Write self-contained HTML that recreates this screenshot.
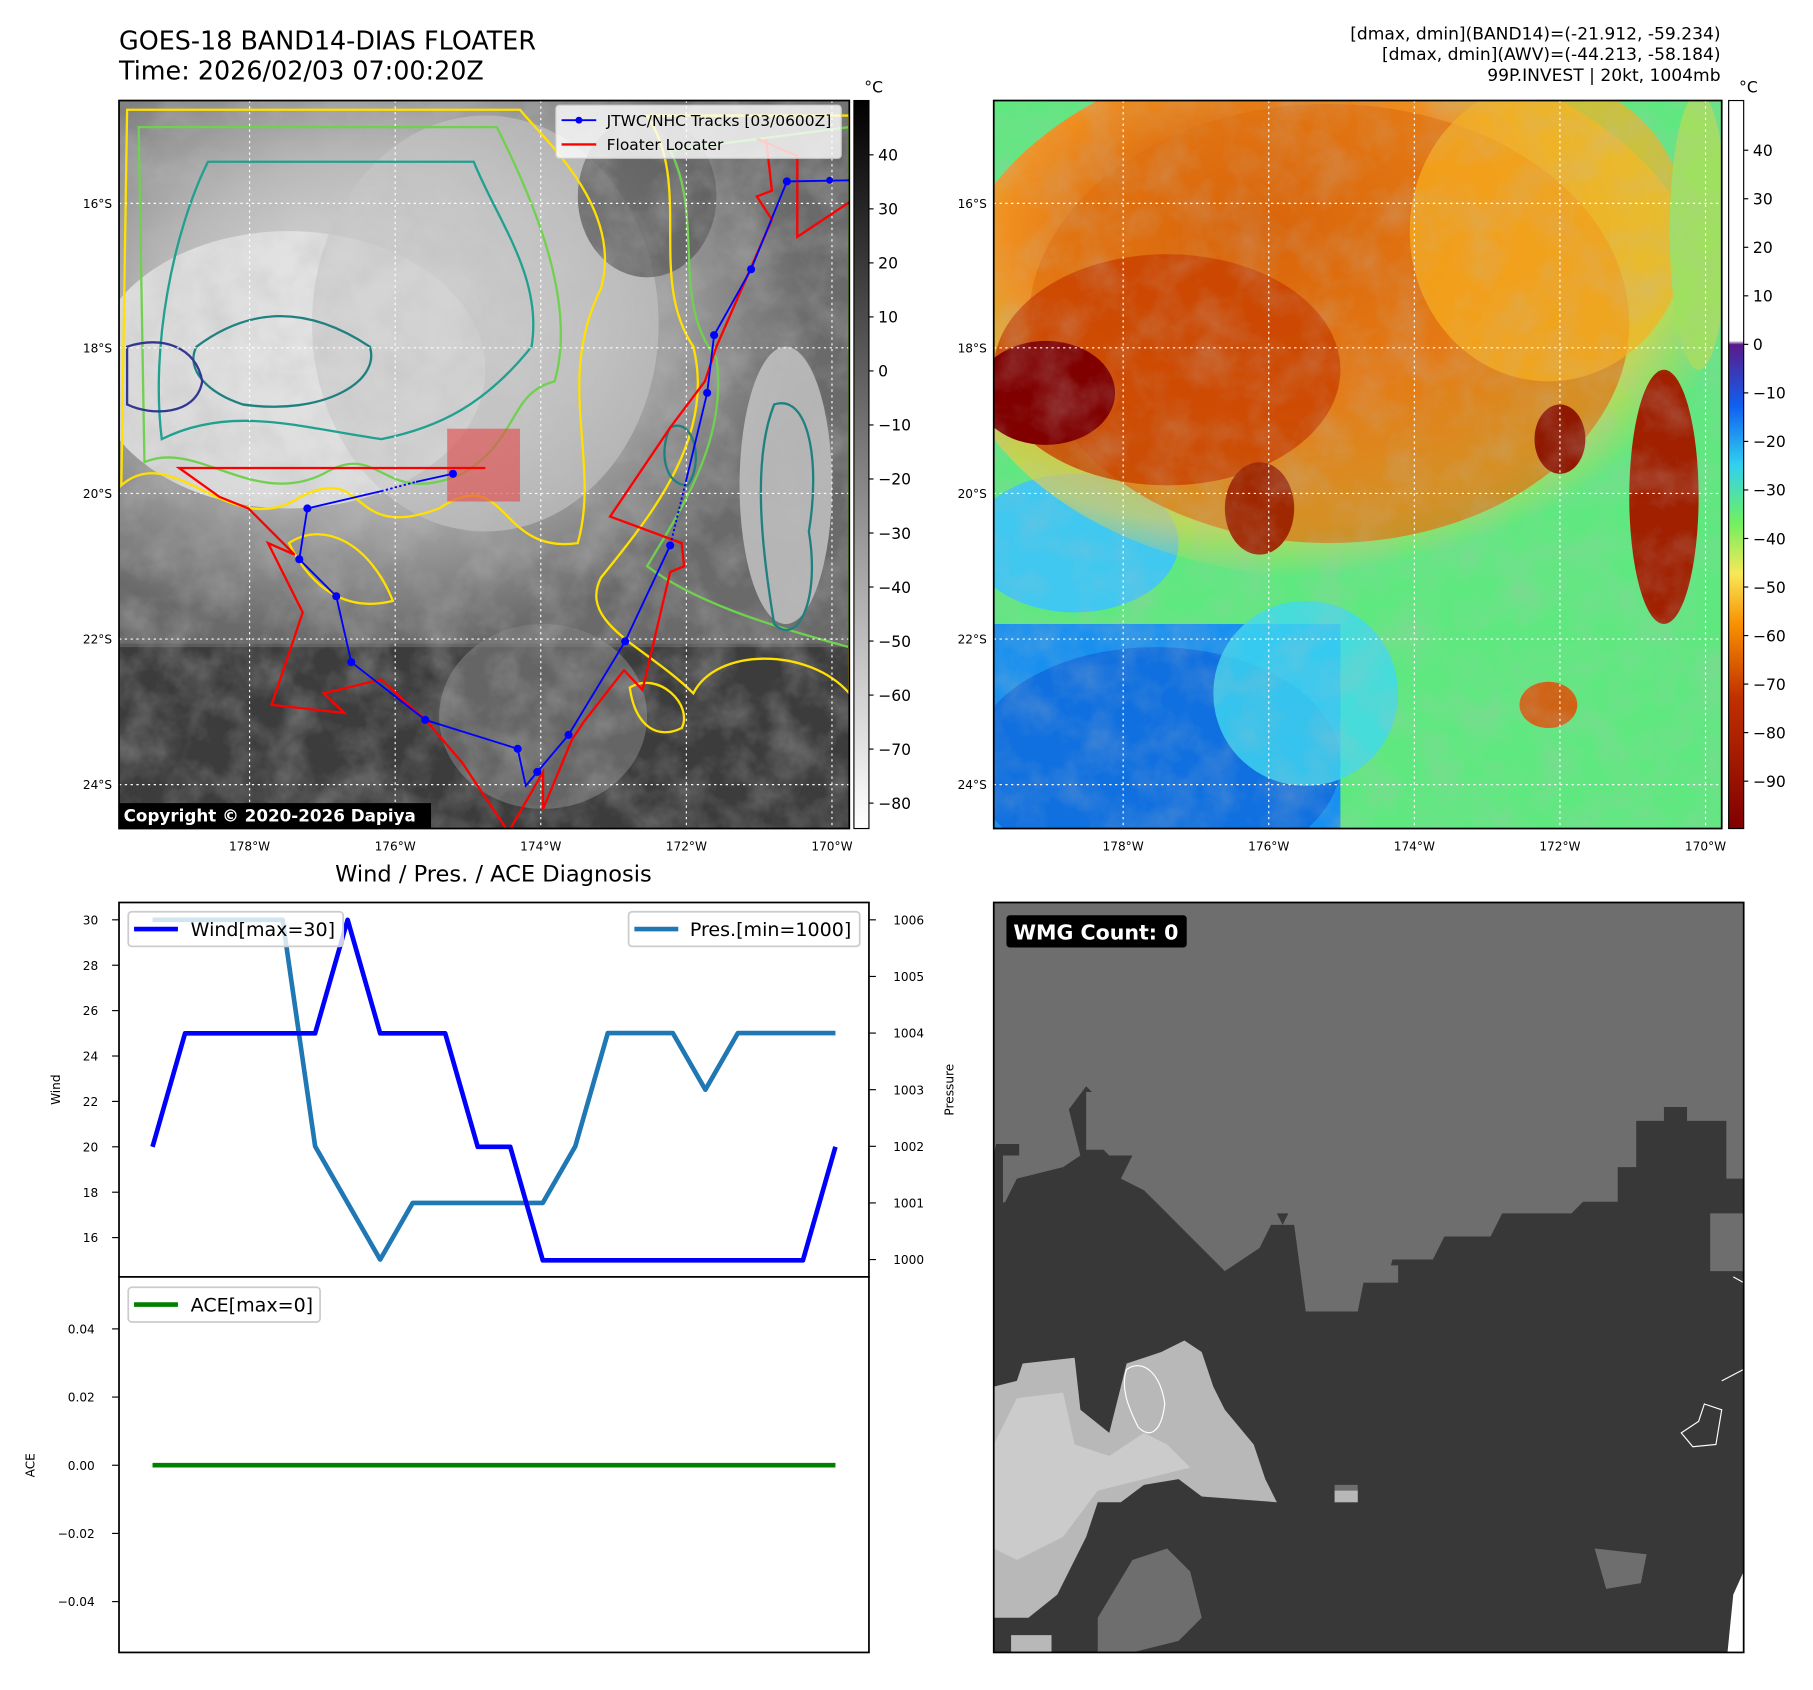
<!DOCTYPE html>
<html><head><meta charset="utf-8"><style>
html,body{margin:0;padding:0;background:#fff}
svg{display:block;font-family:"DejaVu Sans","Liberation Sans",sans-serif}
</style></head><body>
<svg id="fig" width="1813" height="1690" viewBox="0 0 1569 1462.5" preserveAspectRatio="none" xmlns="http://www.w3.org/2000/svg">
<defs>
<filter id="tex" x="0" y="0" width="100%" height="100%"><feTurbulence type="fractalNoise" baseFrequency="0.03" numOctaves="4" seed="3"/><feColorMatrix type="matrix" values="0 0 0 0 0.5 0 0 0 0 0.5 0 0 0 0 0.5 0 0 0 1.4 -0.5"/></filter>
<clipPath id="c1"><rect x="103" y="87" width="632" height="630"/></clipPath>
<clipPath id="c2"><rect x="860" y="87" width="630" height="630"/></clipPath>
<linearGradient id="cb1" x1="0" y1="0" x2="0" y2="1"><stop offset="0" stop-color="#000"/><stop offset="1" stop-color="#fff"/></linearGradient>
<linearGradient id="cb2" x1="0" y1="0" x2="0" y2="1">
<stop offset="0" stop-color="#fff"/><stop offset="0.33" stop-color="#fff"/><stop offset="0.335" stop-color="#5a1a8a"/>
<stop offset="0.42" stop-color="#1060f0"/><stop offset="0.50" stop-color="#30d0f0"/><stop offset="0.58" stop-color="#70f060"/>
<stop offset="0.65" stop-color="#f8e858"/><stop offset="0.72" stop-color="#f89000"/><stop offset="0.82" stop-color="#c03000"/><stop offset="1" stop-color="#800000"/></linearGradient>
<radialGradient id="gl" cx="0.35" cy="0.4" r="0.6"><stop offset="0" stop-color="#e8e8e8"/><stop offset="0.5" stop-color="#b8b8b8"/><stop offset="1" stop-color="#6a6a6a"/></radialGradient>
<radialGradient id="orng" cx="0.4" cy="0.35" r="0.65"><stop offset="0" stop-color="#c84800"/><stop offset="0.5" stop-color="#f09020"/><stop offset="0.85" stop-color="#f8d040" stop-opacity="0.6"/><stop offset="1" stop-color="#f8d040" stop-opacity="0"/></radialGradient>
</defs>
<rect width="1569" height="1463" fill="#fff"/>
<text x="103" y="43" font-size="22">GOES-18 BAND14-DIAS FLOATER</text>
<text x="103" y="69" font-size="22">Time: 2026/02/03 07:00:20Z</text>
<g font-size="14.8" text-anchor="end">
<text x="1489" y="34">[dmax, dmin](BAND14)=(-21.912, -59.234)</text>
<text x="1489" y="52">[dmax, dmin](AWV)=(-44.213, -58.184)</text>
<text x="1489" y="70">99P.INVEST | 20kt, 1004mb</text></g>

<!-- Top-left map -->
<g clip-path="url(#c1)">
<rect x="103" y="87" width="632" height="630" fill="#5a5a5a"/>
<rect x="103" y="87" width="632" height="470" fill="url(#gl)"/>
<ellipse cx="250" cy="320" rx="170" ry="120" fill="#e6e6e6" opacity="0.8"/>
<ellipse cx="420" cy="280" rx="150" ry="180" fill="#c8c8c8" opacity="0.6"/>
<ellipse cx="680" cy="420" rx="40" ry="120" fill="#c8c8c8" opacity="0.8"/>
<rect x="103" y="560" width="632" height="160" fill="#3c3c3c"/>
<ellipse cx="470" cy="620" rx="90" ry="80" fill="#808080" opacity="0.6"/>
<ellipse cx="560" cy="170" rx="60" ry="70" fill="#555" opacity="0.7"/>
<rect x="103" y="87" width="632" height="630" filter="url(#tex)" opacity="0.5"/>
<g fill="none" stroke-width="2">
<path d="M105,420 C150,380 200,470 260,430 C320,400 300,470 380,440 C440,400 430,480 500,470 C520,400 480,330 520,250 C540,180 470,120 450,95 L110,95 Z" stroke="#ffe000"/>
<path d="M125,400 C170,380 220,440 280,410 C330,380 330,440 400,410 C450,380 440,340 480,330 C500,260 460,170 430,110 L120,110 Z" stroke="#70d050"/>
<path d="M140,380 C200,350 260,370 330,380 C380,370 420,350 460,300 C470,240 430,190 410,140 L180,140 C150,200 130,300 140,380 Z" stroke="#20a090"/>
<path d="M170,300 C210,270 260,260 320,300 C330,330 280,360 210,350 C180,340 160,320 170,300 Z" stroke="#208080"/>
<path d="M110,300 C140,290 170,300 175,330 C170,360 130,360 110,350 Z" stroke="#303890"/>
<path d="M560,100 C600,160 560,240 600,300 C620,380 560,450 520,500 C500,540 560,560 600,600 C620,560 700,560 735,600 L735,100 Z" stroke="#ffe000"/>
<path d="M580,130 C610,190 580,260 620,310 C630,380 590,440 560,490 C600,520 660,540 735,560 L735,110 Z" stroke="#70d050"/>
<path d="M670,350 C700,340 710,400 700,460 C710,520 690,560 670,540 C660,480 650,400 670,350 Z" stroke="#208080"/>
<path d="M580,370 C600,360 610,400 595,420 C575,420 570,390 580,370 Z" stroke="#208080"/>
<path d="M545,595 C570,580 600,610 590,630 C570,640 550,630 545,595 Z" stroke="#ffe000"/>
<path d="M250,470 C280,450 320,470 340,520 C300,530 270,510 250,470 Z" stroke="#ffe000"/>
</g>
<g stroke="#fff" stroke-width="1" stroke-dasharray="2,3">
<line x1="216" y1="87" x2="216" y2="717"/><line x1="342" y1="87" x2="342" y2="717"/><line x1="468" y1="87" x2="468" y2="717"/><line x1="594" y1="87" x2="594" y2="717"/><line x1="720" y1="87" x2="720" y2="717"/>
<line x1="103" y1="176" x2="735" y2="176"/><line x1="103" y1="301" x2="735" y2="301"/><line x1="103" y1="427" x2="735" y2="427"/><line x1="103" y1="553" x2="735" y2="553"/><line x1="103" y1="679" x2="735" y2="679"/></g>
<rect x="387" y="371" width="63" height="63" fill="#e05050" opacity="0.65"/>
<polyline fill="none" stroke="#f00" stroke-width="2" points="663,120 668,165 655,170 668,190 620,300 610,330 580,370 528,447 590,470 592,490 580,495 556,597 540,580 505,625 495,640 470,700 470,668 440,720 420,690 400,660 370,625 330,588 280,600 298,617 235,610 262,530 232,470 255,480 215,440 190,430 155,405 420,405"/>
<polyline fill="none" stroke="#f00" stroke-width="2" points="655,120 690,135 690,205 735,175"/>
<g>
<polyline fill="none" stroke="#00f" stroke-width="1.6" points="735,156 681,157 650,233 618,290 612,340 594,415"/>
<polyline fill="none" stroke="#00f" stroke-width="1.6" stroke-dasharray="2,2" points="594,415 580,472"/>
<polyline fill="none" stroke="#00f" stroke-width="1.6" points="580,472 541,555 492,636 465,668 455,680 448,648 368,623 304,573 291,516 259,484 266,440 330,425"/>
<polyline fill="none" stroke="#00f" stroke-width="1.6" stroke-dasharray="2,2" points="330,425 360,417"/>
<polyline fill="none" stroke="#00f" stroke-width="1.6" points="360,417 392,410"/>
<g fill="#00f"><circle cx="718" cy="156" r="3"/><circle cx="681" cy="157" r="3.5"/><circle cx="650" cy="233" r="3.5"/><circle cx="618" cy="290" r="3.5"/><circle cx="612" cy="340" r="3.5"/><circle cx="580" cy="472" r="3.5"/><circle cx="541" cy="555" r="3.5"/><circle cx="492" cy="636" r="3.5"/><circle cx="465" cy="668" r="3.5"/><circle cx="448" cy="648" r="3.5"/><circle cx="368" cy="623" r="3.5"/><circle cx="304" cy="573" r="3.5"/><circle cx="291" cy="516" r="3.5"/><circle cx="259" cy="484" r="3.5"/><circle cx="266" cy="440" r="3.5"/><circle cx="392" cy="410" r="3.5"/></g></g>
</g>
<rect x="103" y="87" width="632" height="630" fill="none" stroke="#000" stroke-width="1.5"/>
<g>
<rect x="481" y="91" width="247" height="46" rx="3" fill="#fff" fill-opacity="0.8" stroke="#ccc"/>
<line x1="486" y1="104" x2="516" y2="104" stroke="#00f" stroke-width="1.6"/><circle cx="501" cy="104" r="3" fill="#00f"/>
<text x="525" y="109" font-size="13.4">JTWC/NHC Tracks [03/0600Z]</text>
<line x1="486" y1="125" x2="516" y2="125" stroke="#f00" stroke-width="2"/>
<text x="525" y="130" font-size="13.4">Floater Locater</text></g>
<g><rect x="103" y="695" width="270" height="22" fill="#000"/>
<text x="107" y="711" font-size="14.5" font-weight="bold" fill="#fff">Copyright © 2020-2026 Dapiya</text></g>
<g font-size="10.5" text-anchor="middle">
<text x="216" y="736">178°W</text><text x="342" y="736">176°W</text><text x="468" y="736">174°W</text><text x="594" y="736">172°W</text><text x="720" y="736">170°W</text></g>
<g font-size="10.5" text-anchor="end">
<text x="97" y="180">16°S</text><text x="97" y="305">18°S</text><text x="97" y="431">20°S</text><text x="97" y="557">22°S</text><text x="97" y="683">24°S</text></g>
<g>
<rect x="739" y="87" width="13" height="630" fill="url(#cb1)" stroke="#000"/>
<text x="748" y="80" font-size="13.5">°C</text>
<g font-size="13.5" id="cb1t"></g></g>

<!-- Top-right map -->
<g clip-path="url(#c2)">
<rect x="860" y="87" width="630" height="630" fill="#60e880"/>
<rect x="860" y="540" width="300" height="180" fill="#1890f0"/>
<ellipse cx="1000" cy="660" rx="160" ry="100" fill="#1070e0"/>
<ellipse cx="1130" cy="600" rx="80" ry="80" fill="#40d8f0" opacity="0.8"/>
<ellipse cx="930" cy="470" rx="90" ry="60" fill="#40c8f0"/>
<ellipse cx="1150" cy="270" rx="330" ry="230" fill="url(#orng)"/>
<ellipse cx="1150" cy="280" rx="260" ry="190" fill="#e07010" opacity="0.7"/>
<ellipse cx="1010" cy="320" rx="150" ry="100" fill="#c84000" opacity="0.8"/>
<ellipse cx="905" cy="340" rx="60" ry="45" fill="#800000"/>
<ellipse cx="1340" cy="200" rx="120" ry="130" fill="#f8b020" opacity="0.7"/>
<ellipse cx="1440" cy="430" rx="30" ry="110" fill="#a02000"/>
<ellipse cx="1350" cy="380" rx="22" ry="30" fill="#901800"/>
<ellipse cx="1090" cy="440" rx="30" ry="40" fill="#a02800"/>
<ellipse cx="1340" cy="610" rx="25" ry="20" fill="#d06010"/>
<ellipse cx="1470" cy="200" rx="25" ry="120" fill="#a0e060"/>
<rect x="860" y="87" width="630" height="630" filter="url(#tex)" opacity="0.35"/>
<g stroke="#fff" stroke-width="1" stroke-dasharray="2,3">
<line x1="972" y1="87" x2="972" y2="717"/><line x1="1098" y1="87" x2="1098" y2="717"/><line x1="1224" y1="87" x2="1224" y2="717"/><line x1="1350" y1="87" x2="1350" y2="717"/><line x1="1476" y1="87" x2="1476" y2="717"/>
<line x1="860" y1="176" x2="1490" y2="176"/><line x1="860" y1="301" x2="1490" y2="301"/><line x1="860" y1="427" x2="1490" y2="427"/><line x1="860" y1="553" x2="1490" y2="553"/><line x1="860" y1="679" x2="1490" y2="679"/></g>
</g>
<rect x="860" y="87" width="630" height="630" fill="none" stroke="#000" stroke-width="1.5"/>
<g font-size="10.5" text-anchor="middle">
<text x="972" y="736">178°W</text><text x="1098" y="736">176°W</text><text x="1224" y="736">174°W</text><text x="1350" y="736">172°W</text><text x="1476" y="736">170°W</text></g>
<g font-size="10.5" text-anchor="end">
<text x="854" y="180">16°S</text><text x="854" y="305">18°S</text><text x="854" y="431">20°S</text><text x="854" y="557">22°S</text><text x="854" y="683">24°S</text></g>
<g>
<rect x="1496" y="87" width="13" height="630" fill="url(#cb2)" stroke="#000"/>
<text x="1505" y="80" font-size="13.5">°C</text>
<g font-size="13.5" id="cb2t"></g></g>

<!-- Bottom-left charts -->
<text x="427" y="763" font-size="19.5" text-anchor="middle">Wind / Pres. / ACE Diagnosis</text>
<g id="windax"></g>
<g id="aceax"></g>

<!-- Bottom-right WMG -->
<g>
<rect x="860" y="781" width="649" height="649" fill="#6e6e6e"/>
<path fill="#383838" d="M860,1045 L868,1045 868,1000 882,1000 882,990 862,990 860,1000 Z M860,1430 L1500,1430 1509,1380 1509,1020 1494,1020 1494,970 1460,970 1460,958 1440,958 1440,970 1416,970 1416,1010 1400,1010 1400,1040 1370,1040 1360,1050 1300,1050 1290,1070 1250,1070 1240,1090 1205,1090 1200,1110 1180,1110 1175,1135 1130,1135 1120,1060 1100,1060 1090,1080 1060,1100 1040,1080 1020,1060 1000,1040 990,1030 970,1020 980,1000 960,1000 940,980 960,960 940,940 925,960 935,1000 920,1010 880,1020 870,1040 860,1045 Z M1105,1050 L1115,1050 1110,1060Z"/>
<path fill="#6e6e6e" d="M940,945 L965,945 960,995 940,995Z M1180,1095 L1210,1095 1210,1110 1180,1110Z M1480,1050 L1509,1050 1509,1100 1480,1100Z"/>
<path fill="#b8b8b8" d="M860,1200 L880,1195 885,1180 930,1175 935,1220 960,1240 975,1180 1005,1170 1025,1160 1040,1170 1050,1200 1060,1220 1085,1250 1095,1280 1105,1300 1040,1295 1020,1280 990,1285 970,1300 950,1300 940,1330 915,1380 890,1400 860,1400 Z"/>
<path fill="#cbcbcb" d="M880,1210 L920,1205 930,1250 960,1260 990,1240 1010,1250 1030,1270 990,1280 950,1290 920,1330 880,1350 860,1340 860,1250Z"/>
<path fill="#6e6e6e" d="M950,1400 L980,1350 1010,1340 1030,1360 1040,1400 1020,1420 980,1430 950,1430Z M1380,1340 L1425,1345 1420,1370 1390,1375Z M1155,1285 L1175,1285 1175,1300 1155,1300Z"/>
<path fill="#b8b8b8" d="M875,1415 L910,1415 910,1430 875,1430Z M1155,1290 L1175,1290 1175,1300 1155,1300Z"/>
<path fill="none" stroke="#fff" stroke-width="1" d="M975,1185 C990,1175 1005,1190 1008,1215 C1005,1240 995,1245 985,1235 C975,1215 970,1200 975,1185Z M1475,1215 L1490,1220 1485,1250 1465,1252 1455,1240 1470,1230Z M1500,1105 L1509,1110 M1490,1195 L1509,1185"/>
<path fill="#fff" d="M1500,1380 L1509,1360 1509,1430 1495,1430Z"/>
<rect x="860" y="781" width="649" height="649" fill="none" stroke="#000" stroke-width="1.5"/>
<rect x="871" y="792" width="156" height="28" rx="3" fill="#000"/>
<text x="877" y="813" font-size="17.8" font-weight="bold" fill="#fff">WMG Count: 0</text>
</g>
</svg>
<script>
const NS="http://www.w3.org/2000/svg";
const windValues=[20,25,25,25,25,25,30,25,25,25,20,20,15,15,15,15,15,15,15,15,15,20];
const presValues=[1006,1006,1006,1006,1006,1002,1001,1000,1001,1001,1001,1001,1001,1002,1004,1004,1004,1003,1004,1004,1004,1004];
const aceValues=[0,0,0,0,0,0,0,0,0,0,0,0,0,0,0,0,0,0,0,0,0,0];
const windTicks=[16,18,20,22,24,26,28,30];
const presTicks=[1000,1001,1002,1003,1004,1005,1006];
const aceTicks=[-0.04,-0.02,0,0.02,0.04];
const cb1Ticks=[40,30,20,10,0,-10,-20,-30,-40,-50,-60,-70,-80];
const cb2Ticks=[40,30,20,10,0,-10,-20,-30,-40,-50,-60,-70,-80,-90];
function el(tag,attrs,parent){const e=document.createElementNS(NS,tag);for(const k in attrs)e.setAttribute(k,attrs[k]);parent.appendChild(e);return e;}
const xS=i=>132+i*(723-132)/(windValues.length-1);
const yW=v=>796+(30-v)*19.643;
const yP=v=>1090-(v-1000)*49;
const yA=v=>1268-v*2950;
const cbY1=v=>134+(40-v)*4.675;
const cbY2=v=>130+(40-v)*4.2;
const g1=document.getElementById('cb1t');
cb1Ticks.forEach(t=>{const y=cbY1(t);el('line',{x1:752,y1:y,x2:756,y2:y,stroke:'#000'},g1);const tx=el('text',{x:760,y:y+5},g1);tx.textContent=(t<0?'\u2212'+(-t):t);

});
const g2=document.getElementById('cb2t');
cb2Ticks.forEach(t=>{const y=cbY2(t);el('line',{x1:1509,y1:y,x2:1513,y2:y,stroke:'#000'},g2);const tx=el('text',{x:1517,y:y+5},g2);tx.textContent=(t<0?'\u2212'+(-t):t);

});
const wa=document.getElementById('windax');
el('rect',{x:103,y:781,width:649,height:324,fill:'#fff',stroke:'#000','stroke-width':1.5},wa);
windTicks.forEach(t=>{const y=yW(t);el('line',{x1:97,y1:y,x2:103,y2:y,stroke:'#000'},wa);const tx=el('text',{x:85,y:y+4,'font-size':10.5,'text-anchor':'end'},wa);tx.textContent=t;

});
presTicks.forEach(t=>{const y=yP(t);el('line',{x1:752,y1:y,x2:758,y2:y,stroke:'#000'},wa);const tx=el('text',{x:773,y:y+4,'font-size':10.5},wa);tx.textContent=t;

});
const wl=el('text',{x:52,y:943,'font-size':10.5,'text-anchor':'middle',transform:'rotate(-90 52 943)'},wa);wl.textContent='Wind';


const pl=el('text',{x:825,y:943,'font-size':10.5,'text-anchor':'middle',transform:'rotate(-90 825 943)'},wa);pl.textContent='Pressure';


const pLine=el('polyline',{fill:'none',stroke:'#1f77b4','stroke-width':4,'stroke-linejoin':'round',points:presValues.map((v,i)=>xS(i)+','+yP(v)).join(' ')},wa);


const wLine=el('polyline',{fill:'none',stroke:'#0000ff','stroke-width':4,'stroke-linejoin':'round',points:windValues.map((v,i)=>xS(i)+','+yW(v)).join(' ')},wa);


const lg1=el('g',{},wa);


el('rect',{x:111,y:789,width:186,height:30,rx:3,fill:'#fff','fill-opacity':0.8,stroke:'#ccc','stroke-width':1.5},lg1);
el('line',{x1:116,y1:804,x2:154,y2:804,stroke:'#0000ff','stroke-width':4},lg1);
el('text',{x:165,y:810,'font-size':16.5},lg1).textContent='Wind[max=30]';
const lg2=el('g',{},wa);


el('rect',{x:544,y:789,width:200,height:30,rx:3,fill:'#fff','fill-opacity':0.8,stroke:'#ccc','stroke-width':1.5},lg2);
el('line',{x1:549,y1:804,x2:587,y2:804,stroke:'#1f77b4','stroke-width':4},lg2);
el('text',{x:597,y:810,'font-size':16.5},lg2).textContent='Pres.[min=1000]';
const aa=document.getElementById('aceax');
el('rect',{x:103,y:1105,width:649,height:325,fill:'#fff',stroke:'#000','stroke-width':1.5},aa);
aceTicks.forEach(t=>{const y=yA(t);el('line',{x1:97,y1:y,x2:103,y2:y,stroke:'#000'},aa);const tx=el('text',{x:82,y:y+4,'font-size':10.5,'text-anchor':'end'},aa);tx.textContent=(t<0?'\u2212'+(-t).toFixed(2):t.toFixed(2));

});
const al=el('text',{x:30,y:1268,'font-size':10.5,'text-anchor':'middle',transform:'rotate(-90 30 1268)'},aa);al.textContent='ACE';


const aLine=el('polyline',{fill:'none',stroke:'#008000','stroke-width':4,points:aceValues.map((v,i)=>xS(i)+','+yA(v)).join(' ')},aa);


const lg3=el('g',{},aa);


el('rect',{x:111,y:1114,width:166,height:30,rx:3,fill:'#fff','fill-opacity':0.8,stroke:'#ccc','stroke-width':1.5},lg3);
el('line',{x1:116,y1:1129,x2:154,y2:1129,stroke:'#008000','stroke-width':4},lg3);
el('text',{x:165,y:1135,'font-size':16.5},lg3).textContent='ACE[max=0]';
</script>
</body></html>
